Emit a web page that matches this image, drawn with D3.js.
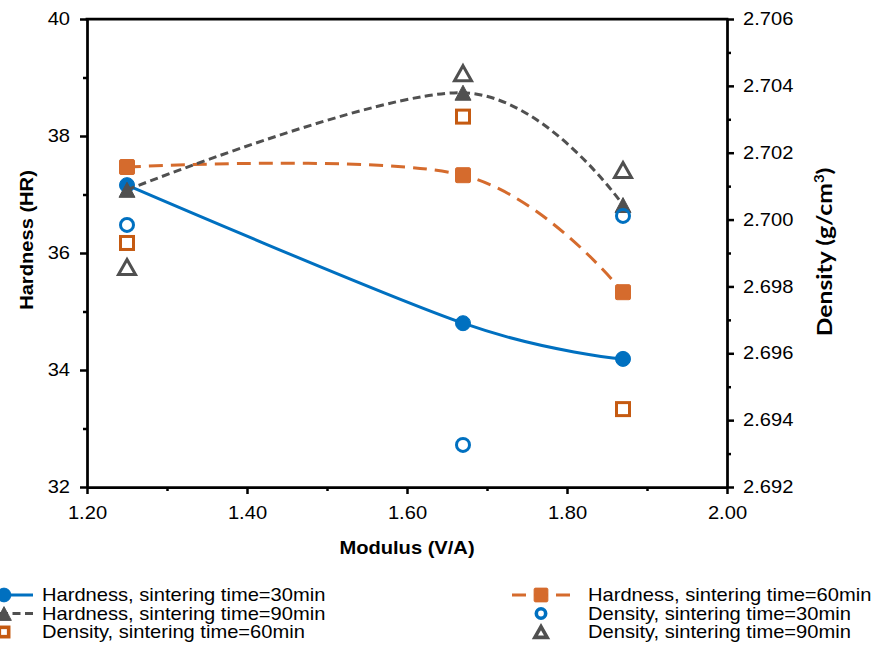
<!DOCTYPE html>
<html lang="en">
<head>
<meta charset="utf-8" />
<title>Hardness and density vs modulus</title>
<style>
  body { margin: 0; background: #fff; }
  svg { display: block; font-family: "Liberation Sans", Arial, sans-serif; }
</style>
</head>
<body>
<script src="https://d3js.org/d3.v7.min.js"></script>
<div id="chart"></div>
<script>
    // values
    const modulus = [1.25, 1.67, 1.87];
    const hardness30 = [37.16, 34.80, 34.19];
    const hardness60 = [37.47, 37.33, 35.33];
    const hardness90 = [37.08, 38.74, 36.82];
    const density30 = [2.69984, 2.69326, 2.70011];
    const density60 = [2.69930, 2.70308, 2.69433];
    const density90 = [2.69858, 2.70438, 2.70148];

    const xTicks = [1.2, 1.4, 1.6, 1.8, 2.0];
    const xMinor = [1.3, 1.5, 1.7, 1.9];
    const hardTicks = [32, 34, 36, 38, 40];
    const hardMinor = [33, 35, 37, 39];
    const densTicks = [2.692, 2.694, 2.696, 2.698, 2.700, 2.702, 2.704, 2.706];
    const densMinor = [2.693, 2.695, 2.697, 2.699, 2.701, 2.703, 2.705];

    const W = 894, H = 652;
    const pLeft = 87, pRight = 727, pTop = 19, pBottom = 487;
    const sx = 1.15;   // text in the original is a bit wide

    const blue = "#0070C0", orange = "#D56B2D", darkOrange = "#C55A11", grey = "#505050";

    const svg = d3.select("#chart").append("svg")
        .attr("width", W).attr("height", H);

    const x = d3.scaleLinear().domain([1.2, 2.0]).range([pLeft, pRight]);
    const yL = d3.scaleLinear().domain([32, 40]).range([pBottom, pTop]);
    const yR = d3.scaleLinear().domain([2.692, 2.706]).range([pBottom, pTop]);

    // triangle centred on its box
    const tri = (w, h) => `M0,${-h / 2}L${w / 2},${h / 2}L${-w / 2},${h / 2}Z`;

    const markers = {
        circle: g => g.append("circle").attr("r", 7.5),
        square: g => g.append("rect").attr("x", -7.5).attr("y", -7.5).attr("width", 15).attr("height", 15).attr("rx", 1.5),
        triangle: g => g.append("path").attr("d", tri(16, 15)),
        ocircle: g => g.append("circle").attr("r", 6.5),
        osquare: g => g.append("rect").attr("x", -6.5).attr("y", -6.5).attr("width", 13).attr("height", 13),
        otriangle: g => g.append("path").attr("d", tri(17, 15))
    };

    const series = [
        {label: "Hardness, sintering time=30min", values: hardness30, y: yL, color: blue, dash: null, marker: "circle", line: true},
        {label: "Hardness, sintering time=60min", values: hardness60, y: yL, color: orange, dash: "14,8", marker: "square", line: true},
        {label: "Hardness, sintering time=90min", values: hardness90, y: yL, color: grey, dash: "8,4.5", marker: "triangle", line: true},
        {label: "Density, sintering time=30min", values: density30, y: yR, color: blue, marker: "ocircle", line: false},
        {label: "Density, sintering time=60min", values: density60, y: yR, color: darkOrange, marker: "osquare", line: false},
        {label: "Density, sintering time=90min", values: density90, y: yR, color: grey, marker: "otriangle", line: false}
    ];

    function drawMarker(g, s, sw) {
        const m = markers[s.marker](g);
        if (s.marker.startsWith("o")) {
            m.attr("fill", "none").attr("stroke", s.color).attr("stroke-width", sw || 3);
        } else {
            m.attr("fill", s.color).attr("stroke", s.color).attr("stroke-width", 1);
        }
    }

    // axes
    function styleAxis(g) {
        g.select(".domain").attr("stroke", "#000").attr("stroke-width", 2.75);
        g.selectAll(".tick line").attr("stroke", "#000").attr("stroke-width", 2.5);
        g.selectAll("text").attr("fill", "#000").style("font-size", "17.5px");
    }

    const gx = svg.append("g").attr("transform", `translate(0,${pBottom})`)
        .call(d3.axisBottom(x).tickValues(xTicks).tickSize(7).tickSizeOuter(0).tickFormat(d3.format(".2f")))
        .call(styleAxis);
    gx.selectAll("text").attr("y", 32).attr("dy", 0).attr("transform", `scale(${sx},1)`);
    svg.append("g").attr("transform", `translate(0,${pBottom})`)
        .call(d3.axisBottom(x).tickValues(xMinor).tickSize(4).tickSizeOuter(0).tickFormat(""))
        .call(styleAxis).select(".domain").remove();

    const gl = svg.append("g").attr("transform", `translate(${pLeft},0)`)
        .call(d3.axisLeft(yL).tickValues(hardTicks).tickSize(7).tickSizeOuter(0).tickFormat(d3.format("d")))
        .call(styleAxis);
    gl.selectAll("text").attr("x", -17 / sx).attr("transform", `scale(${sx},1)`);
    svg.append("g").attr("transform", `translate(${pLeft},0)`)
        .call(d3.axisLeft(yL).tickValues(hardMinor).tickSize(4).tickSizeOuter(0).tickFormat(""))
        .call(styleAxis).select(".domain").remove();

    const gr = svg.append("g").attr("transform", `translate(${pRight},0)`)
        .call(d3.axisRight(yR).tickValues(densTicks).tickSize(7).tickSizeOuter(0).tickFormat(d3.format(".3f")))
        .call(styleAxis);
    gr.selectAll("text").attr("x", 16 / sx).attr("transform", `scale(${sx},1)`);
    svg.append("g").attr("transform", `translate(${pRight},0)`)
        .call(d3.axisRight(yR).tickValues(densMinor).tickSize(4).tickSizeOuter(0).tickFormat(""))
        .call(styleAxis).select(".domain").remove();

    // top frame line
    svg.append("line")
        .attr("x1", pLeft - 1.4).attr("x2", pRight + 1.4).attr("y1", pTop).attr("y2", pTop)
        .attr("stroke", "#000").attr("stroke-width", 2.75);

    // axis titles
    svg.append("text")
        .attr("transform", `translate(${(pLeft + pRight) / 2},554) scale(${sx},1)`)
        .attr("text-anchor", "middle").style("font-size", "17.5px").style("font-weight", "bold")
        .text("Modulus (V/A)");

    svg.append("text")
        .attr("transform", `translate(33,240) rotate(-90) scale(${sx},1)`)
        .attr("text-anchor", "middle").style("font-size", "17.5px").style("font-weight", "bold")
        .text("Hardness (HR)");

    const dt = svg.append("text")
        .attr("transform", `translate(832,252) rotate(-90) scale(${sx},1)`)
        .attr("text-anchor", "middle")
        .style("font-family", "Lato, 'Open Sans', sans-serif")
        .style("font-size", "21.5px").style("font-weight", "bold")
        .text("Density (g/cm");
    dt.append("tspan").attr("dy", -8).style("font-size", "13px").text("3");
    dt.append("tspan").attr("dy", 8).text(")");

    // series
    const line = d3.line().curve(d3.curveCardinal.tension(0));
    series.forEach(s => {
        const pts = modulus.map((m, i) => [x(m), s.y(s.values[i])]);
        const g = svg.append("g");
        if (s.line) {
            g.append("path")
                .attr("d", line(pts))
                .attr("fill", "none")
                .attr("stroke", s.color)
                .attr("stroke-width", 3)
                .attr("stroke-dasharray", s.dash);
        }
        pts.forEach(p => {
            drawMarker(g.append("g").attr("transform", `translate(${p[0]},${p[1]})`), s);
        });
    });

    // legend, two columns
    const colX = [4, 541], textOff = [38, 47], rowY = [601, 619.5, 638];
    series.forEach((s, i) => {
        const col = i % 2, row = Math.floor(i / 2);
        const cx = colX[col], cy = rowY[row] - 6;
        const g = svg.append("g");
        if (s.line) {
            g.append("line")
                .attr("x1", cx - 29).attr("x2", cx + 29).attr("y1", cy).attr("y2", cy)
                .attr("stroke", s.color).attr("stroke-width", 3)
                .attr("stroke-dasharray", s.dash);
        }
        const k = s.line ? 0.92 : 0.72;
        const mg = g.append("g").attr("transform", `translate(${cx},${cy}) scale(${k})`);
        drawMarker(mg, s, 4 / k * 0.9);
        g.append("text")
            .attr("transform", `translate(${cx + textOff[col]},${rowY[row]}) scale(${sx},1)`)
            .style("font-size", "17.5px")
            .text(s.label);
    });
</script>
</body>
</html>
